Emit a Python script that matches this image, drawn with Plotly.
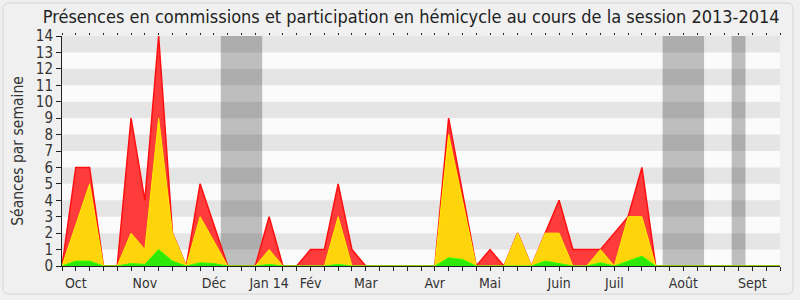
import plotly.graph_objects as go

weeks = list(range(53))
month_labels = ["Oct", "Nov", "Déc", "Jan 14", "Fév", "Mar", "Avr", "Mai", "Juin", "Juil", "Août", "Sept"]
month_weeks = [1, 6, 11, 15, 18, 22, 27, 31, 36, 40, 45, 50]

presence_commission = [0, 6, 6, 0, 0, 9, 4, 14, 2, 0, 5, 2.5, 0, 0, 0, 3, 0, 0, 1, 1, 5, 1, 0, 0, 0, 0, 0,
                       0, 9, 4.5, 0, 1, 0, 2, 0, 2, 4, 1, 1, 1, 2, 3, 6, 0,
                       0, 0, 0, 0, 0, 0, 0, 0, 0]
participation_hemicycle = [0, 2.5, 5, 0, 0, 2, 1, 9, 2, 0, 3, 1.5, 0, 0, 0, 1, 0, 0, 0, 0, 3, 0, 0, 0, 0, 0, 0,
                           0, 8, 4, 0, 0, 0, 2, 0, 2, 2, 0, 0, 1, 0, 3, 3, 0,
                           0, 0, 0, 0, 0, 0, 0, 0, 0]
interventions = [0, 0.3, 0.3, 0, 0, 0.15, 0.1, 1, 0.3, 0, 0.2, 0.15, 0, 0, 0, 0.1, 0, 0, 0, 0, 0.1, 0, 0, 0, 0, 0, 0,
                 0, 0.5, 0.4, 0, 0, 0, 0, 0, 0.3, 0.15, 0, 0, 0.2, 0, 0.3, 0.6, 0,
                 0, 0, 0, 0, 0, 0, 0, 0, 0]
vacances = [(11.5, 14.5), (43.5, 46.5), (48.5, 49.5)]

FONT = "DejaVu Sans Condensed, DejaVu Sans, sans-serif"

fig = go.Figure()
fig.add_trace(go.Scatter(x=weeks, y=presence_commission, mode="lines", fill="tozeroy",
                         line=dict(color="#ff1010", width=1.5), fillcolor="#ff3c3c",
                         hoverinfo="skip", showlegend=False))
fig.add_trace(go.Scatter(x=weeks, y=participation_hemicycle, mode="lines", fill="tozeroy",
                         line=dict(color="#ffee00", width=1), fillcolor="#ffd40a",
                         hoverinfo="skip", showlegend=False))
fig.add_trace(go.Scatter(x=weeks, y=interventions, mode="lines", fill="tozeroy",
                         line=dict(color="#33ff00", width=1), fillcolor="#2ee80a",
                         hoverinfo="skip", showlegend=False))
# invisible trace to activate top tick axis
fig.add_trace(go.Scatter(x=weeks, y=presence_commission, mode="none", xaxis="x2",
                         hoverinfo="skip", showlegend=False))

shapes = []
for a, b in vacances:
    shapes.append(dict(type="rect", xref="x", yref="y", x0=a, x1=b, y0=0, y1=14,
                       fillcolor="#bebebe", line=dict(width=0), layer="below"))
for k in range(1, 14, 2):
    shapes.append(dict(type="rect", xref="x", yref="y", x0=0, x1=52, y0=k, y1=k + 1,
                       fillcolor="rgba(0,0,0,0.085)", line=dict(width=0), layer="below"))

# outer rounded frame (paper coords relative to plot area)
pw, ph = 718.0, 230.0
def px(x):
    return (x - 62) / pw
def py(y):
    return (266 - y) / ph
x0, x1, y0, y1, r = 3, 793, 3, 294, 6
path = (f"M {px(x0 + r)},{py(y0)} L {px(x1 - r)},{py(y0)} Q {px(x1)},{py(y0)} {px(x1)},{py(y0 + r)} "
        f"L {px(x1)},{py(y1 - r)} Q {px(x1)},{py(y1)} {px(x1 - r)},{py(y1)} "
        f"L {px(x0 + r)},{py(y1)} Q {px(x0)},{py(y1)} {px(x0)},{py(y1 - r)} "
        f"L {px(x0)},{py(y0 + r)} Q {px(x0)},{py(y0)} {px(x0 + r)},{py(y0)} Z")
shapes.append(dict(type="path", xref="paper", yref="paper", path=path,
                   line=dict(color="#d6d6d6", width=1), layer="below"))

ticktext = [""] * len(weeks)
for lbl, w in zip(month_labels, month_weeks):
    ticktext[w] = lbl

fig.update_layout(
    width=800, height=300,
    margin=dict(l=62, r=20, t=36, b=34, autoexpand=False),
    paper_bgcolor="#f0f0f0", plot_bgcolor="#fbfbfb",
    title=dict(text="Présences en commissions et participation en hémicycle au cours de la session 2013-2014",
               x=0.514, xanchor="center", y=0.945, yanchor="middle",
               font=dict(family=FONT, size=18, color="#222222")),
    shapes=shapes,
    xaxis=dict(range=[0, 52], tickmode="array", tickvals=weeks, ticktext=ticktext,
               ticks="outside", ticklen=4, tickcolor="#222222", showline=True, linecolor="#222222",
               linewidth=1, showgrid=False, zeroline=False, automargin=False,
               tickfont=dict(family=FONT, size=14, color="#333333")),
    xaxis2=dict(range=[0, 52], overlaying="x", side="top", tickmode="array", tickvals=weeks,
                ticks="outside", ticklen=2, tickcolor="#222222", showticklabels=False,
                showline=False, showgrid=False, zeroline=False, automargin=False),
    yaxis=dict(range=[0, 14], tickmode="linear", dtick=1, ticks="outside", ticklen=5,
               tickcolor="#222222", showline=True, linecolor="#222222", linewidth=1,
               showgrid=False, zeroline=False, automargin=False,
               tickfont=dict(family=FONT, size=15, color="#333333"),
               title=dict(text="Séances par semaine", standoff=8,
                          font=dict(family=FONT, size=15.5, color="#333333"))),
)

fig.write_html("out.html", post_script="document.body.style.margin='0';",
               config={"displayModeBar": False})
